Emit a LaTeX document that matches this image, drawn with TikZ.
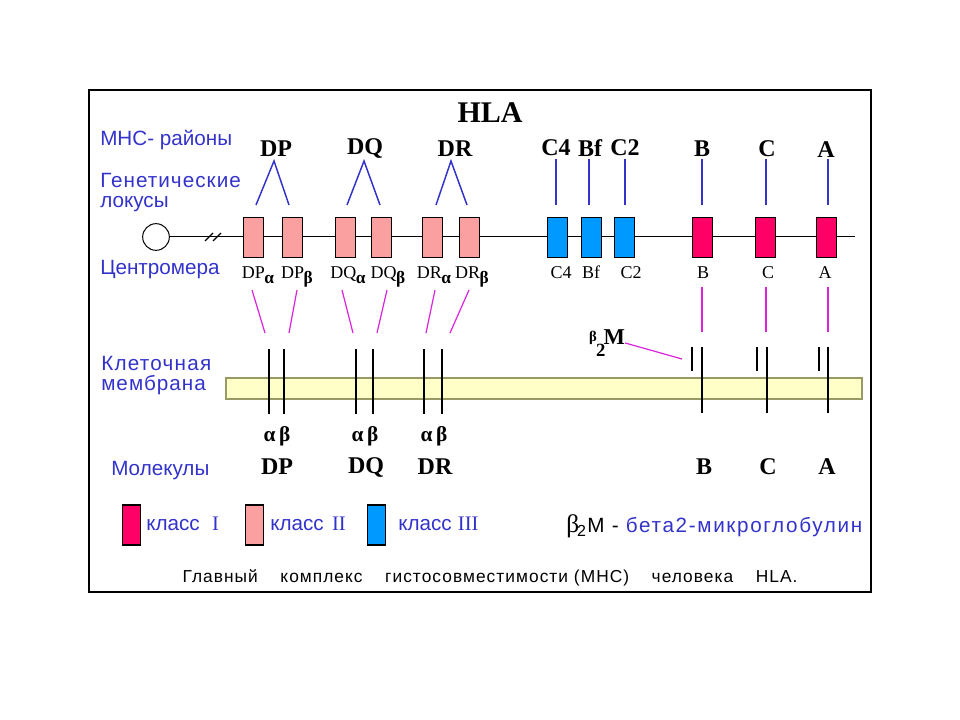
\documentclass[tikz,border=0pt]{standalone}
\usepackage{fontspec}
\usetikzlibrary{calc}
\setmainfont{Liberation Serif}
\setsansfont{Liberation Sans}
\definecolor{lblue}{RGB}{51,51,204}
\definecolor{cI}{RGB}{255,0,102}
\definecolor{cII}{RGB}{250,160,160}
\definecolor{cIII}{RGB}{0,153,255}
\definecolor{mag}{RGB}{221,34,221}
\definecolor{memfill}{RGB}{255,255,200}
\definecolor{memdraw}{RGB}{153,153,102}
\tikzset{
  blab/.style={font=\sffamily\fontsize{15.5}{18}\selectfont, text=lblue, inner sep=0pt, anchor=base west},
  toplab/.style={font=\rmfamily\bfseries\fontsize{18}{20}\selectfont, inner sep=0pt},
  genelab/.style={font=\rmfamily\fontsize{13.5}{16}\selectfont, inner sep=0pt, anchor=base},
  gene/.style={draw=black, line width=0.6pt, minimum width=15pt, minimum height=30pt, inner sep=0pt},
  legbox/.style={draw=black, line width=0.9pt, minimum width=13pt, minimum height=30pt, inner sep=0pt},
  bconn/.style={draw=lblue, line width=1.1pt},
  mconn/.style={draw=mag, line width=1.1pt},
  chain/.style={draw=black, line width=1.4pt},
  thinchain/.style={draw=black, line width=0.9pt},
}
\newcommand{\ga}{\kern-0.3pt\raisebox{-0.25em}{\bfseries\fontsize{13}{13}\selectfont α}}
\newcommand{\gb}{\kern-0.3pt\raisebox{-0.25em}{\bfseries\fontsize{13}{13}\selectfont β}}
\newcommand{\ls}[1]{\addfontfeatures{LetterSpace=#1}}
\begin{document}
\begin{tikzpicture}[x=0.75pt,y=-0.75pt]
\useasboundingbox (0,0) rectangle (960,720);
\fill[white] (0,0) rectangle (960,720);
\node[draw=black, line width=1.6pt, minimum width=586.5pt, minimum height=376.5pt, inner sep=0pt] (frame) at (480,341) {};

% title
\node[font=\rmfamily\bfseries\fontsize{22.5}{24}\selectfont, inner sep=0pt] (hla) at (490,113) {HLA};

% left blue labels
\node[blab] (mhc) at (100,146) {МНС- районы};
\node[blab] (gen1) at (100,188) {\ls{5}Генетические};
\node[blab] (gen2) at (100,208) {локусы};
\node[blab] (centr) at (100,275) {Центромера};
\node[blab] (mem1) at (101,370) {\ls{6}Клеточная};
\node[blab] (mem2) at (101,390) {\ls{5}мембрана};
\node[blab] (mol) at (111,475) {Молекулы};

% top region labels
\node[toplab] (tDP) at (276,149) {DP};
\node[toplab] (tDQ) at (365,149) {DQ};
\node[toplab] (tDR) at (455,149) {DR};
\node[toplab] (tC4) at (556,148) {C4};
\node[toplab] (tBf) at (590,148) {Bf};
\node[toplab] (tC2) at (625,148) {C2};
\node[toplab] (tB) at (702,149) {B};
\node[toplab] (tC) at (767,149) {C};
\node[toplab] (tA) at (826,150) {A};

% chromosome
\node[draw=black, line width=0.75pt, circle, minimum size=20pt, inner sep=0pt] (cen) at (156,237) {};
\coordinate (chrEnd) at (855,237);
\draw[line width=0.75pt] (cen.east) -- (chrEnd);
\coordinate (brk1) at (209,237);
\coordinate (brk2) at (217,237);
\draw[line width=0.9pt] ($(brk1)+(-4,4)$) -- ($(brk1)+(4,-4)$);
\draw[line width=0.9pt] ($(brk2)+(-4,4)$) -- ($(brk2)+(4,-4)$);

% genes
\node[gene, fill=cII] (gDPa) at (253.5,237) {};
\node[gene, fill=cII] (gDPb) at (292,237) {};
\node[gene, fill=cII] (gDQa) at (345,237) {};
\node[gene, fill=cII] (gDQb) at (381.5,237) {};
\node[gene, fill=cII] (gDRa) at (432,237) {};
\node[gene, fill=cII] (gDRb) at (469.5,237) {};
\node[gene, fill=cIII] (gC4) at (557,237) {};
\node[gene, fill=cIII] (gBf) at (591,237) {};
\node[gene, fill=cIII] (gC2) at (624.5,237) {};
\node[gene, fill=cI] (gB) at (702,237) {};
\node[gene, fill=cI] (gC) at (765,237) {};
\node[gene, fill=cI] (gA) at (826,237) {};

% blue connectors region -> loci
\coordinate (aDP) at (274,161); \coordinate (lDPa) at (256,205); \coordinate (lDPb) at (289,205);
\coordinate (aDQ) at (364,161); \coordinate (lDQa) at (347,205); \coordinate (lDQb) at (380,205);
\coordinate (aDR) at (451,161); \coordinate (lDRa) at (436,205); \coordinate (lDRb) at (467,205);
\draw[bconn] (lDPa) -- (aDP) -- (lDPb);
\draw[bconn] (lDQa) -- (aDQ) -- (lDQb);
\draw[bconn] (lDRa) -- (aDR) -- (lDRb);
\foreach \n/\x in {C4/556,Bf/589,C2/625,B/702,C/766,A/828}{
  \coordinate (u\n) at (\x,159); \coordinate (d\n) at (\x,205);
}
\draw[bconn] (uC4) -- (dC4);
\draw[bconn, line width=0.9pt] (uBf) -- (dBf);
\draw[bconn] (uC2) -- (dC2);
\draw[bconn, line width=1.5pt] (uB) -- (dB);
\draw[bconn, line width=0.9pt] (uC) -- (dC);
\draw[bconn, line width=0.9pt] (uA) -- (dA);

% gene labels
\node[genelab] (bDPa) at (258,279) {DP\ga};
\node[genelab] (bDPb) at (297,279) {DP\gb};
\node[genelab] (bDQa) at (348,279) {DQ\ga};
\node[genelab] (bDQb) at (388,279) {DQ\gb};
\node[genelab] (bDRa) at (434,279) {DR\ga};
\node[genelab] (bDRb) at (472,279) {DR\gb};
\node[genelab] (bC4) at (561,279) {C4};
\node[genelab] (bBf) at (591,279) {Bf};
\node[genelab] (bC2) at (631,279) {C2};
\node[genelab] (bB) at (703,279) {B};
\node[genelab] (bC) at (768,279) {C};
\node[genelab] (bA) at (825,279) {A};

% membrane
\node[draw=memdraw, fill=memfill, line width=0.8pt, minimum width=477pt, minimum height=15.75pt, inner sep=0pt] (memb) at (544,388.5) {};

% magenta connectors gene labels -> chains
\coordinate (p1a) at (252,290); \coordinate (p1b) at (265,333);
\coordinate (p2a) at (297,290); \coordinate (p2b) at (289,333);
\coordinate (p3a) at (342,290); \coordinate (p3b) at (353,333);
\coordinate (p4a) at (387,290); \coordinate (p4b) at (377,333);
\coordinate (p5a) at (435,290); \coordinate (p5b) at (426,333);
\coordinate (p6a) at (469,290); \coordinate (p6b) at (450,333);
\coordinate (p7a) at (702,287); \coordinate (p7b) at (702,332);
\coordinate (p8a) at (766,287); \coordinate (p8b) at (766,332);
\coordinate (p9a) at (828,287); \coordinate (p9b) at (828,332);
\foreach \i in {1,...,6}{\draw[mconn, line width=0.9pt] (p\i a) -- (p\i b);}
\draw[mconn, line width=1.5pt] (p7a) -- (p7b);
\draw[mconn, line width=1.3pt] (p8a) -- (p8b);
\draw[mconn, line width=0.9pt] (p9a) -- (p9b);

% chains
\foreach \n/\x in {DPa/269,DPb/284,DQa/356,DQb/373,DRa/424,DRb/442}{
  \coordinate (ct\n) at (\x,349); \coordinate (cb\n) at (\x,414);
}
\draw[chain] (ctDPa) -- (cbDPa);
\draw[thinchain] (ctDPb) -- (cbDPb);
\draw[chain] (ctDQa) -- (cbDQa);
\draw[chain] (ctDQb) -- (cbDQb);
\draw[thinchain] (ctDRa) -- (cbDRa);
\draw[chain] (ctDRb) -- (cbDRb);
\foreach \n/\xs/\xl in {B/692/702,C/757/767,A/819/828}{
  \coordinate (s\n t) at (\xs,347); \coordinate (s\n b) at (\xs,371);
  \coordinate (l\n t) at (\xl,347); \coordinate (l\n b) at (\xl,413);
}
\draw[thinchain] (sBt) -- (sBb);
\draw[chain] (lBt) -- (lBb);
\draw[chain] (sCt) -- (sCb);
\draw[chain] (lCt) -- (lCb);
\draw[chain] (sAt) -- (sAb);
\draw[thinchain] (lAt) -- (lAb);

% beta2M label
\node[font=\rmfamily\bfseries\fontsize{17}{18}\selectfont, inner sep=0pt] (b2m) at (607,343) {\raisebox{0.15em}{\fontsize{11}{11}\selectfont β}\kern-0.5pt\raisebox{-0.5em}{\fontsize{14}{14}\selectfont 2}\kern-1.5pt M};
\coordinate (b2mEnd) at (682,359);
\draw[mconn, line width=0.9pt] (b2m.east) -- (b2mEnd);

% alpha beta labels
\node[font=\rmfamily\bfseries\fontsize{16}{16}\selectfont, inner sep=0pt] (abDP) at (277,436) {α\,β};
\node[font=\rmfamily\bfseries\fontsize{16}{16}\selectfont, inner sep=0pt] (abDQ) at (365,436) {α\,β};
\node[font=\rmfamily\bfseries\fontsize{16}{16}\selectfont, inner sep=0pt] (abDR) at (434,436) {α\,β};

% molecule labels
\node[toplab] (mDP) at (277,467) {DP};
\node[toplab] (mDQ) at (366,467) {DQ};
\node[toplab] (mDR) at (435,467) {DR};
\node[toplab] (mB) at (704,467) {B};
\node[toplab] (mC) at (768,467) {C};
\node[toplab] (mA) at (827,467) {A};

% legend
\node[legbox, fill=cI] (lg1) at (131.5,525) {};
\node[blab] (lt1) at (146,530) {класс\hspace{0.6em}{\rmfamily I}};
\node[legbox, fill=cII] (lg2) at (254.5,525) {};
\node[blab] (lt2) at (270,530) {класс\hspace{0.4em}{\rmfamily II}};
\node[legbox, fill=cIII] (lg3) at (376.5,525) {};
\node[blab] (lt3) at (398,530) {класс\hspace{0.3em}{\rmfamily III}};
\node[inner sep=0pt, anchor=base west, font=\sffamily\fontsize{15.5}{18}\selectfont] (lb2m) at (566,532) {{\rmfamily\fontsize{19}{18}\selectfont β}\kern-1.5pt\raisebox{-0.2em}{\fontsize{12}{11}\selectfont 2}\kern1pt M\hspace{0.35em}-\hspace{0.35em}\textcolor{lblue}{\ls{8}бета2-микроглобулин}};

% caption
\node[inner sep=0pt, font=\sffamily\fontsize{13}{14}\selectfont] (cap) at (490,578) {\ls{6}Главный\hspace{1.3em}комплекс\hspace{1.3em}гистосовместимости (МНС)\hspace{1.3em}человека\hspace{1.3em}HLA.};
\end{tikzpicture}
\end{document}
